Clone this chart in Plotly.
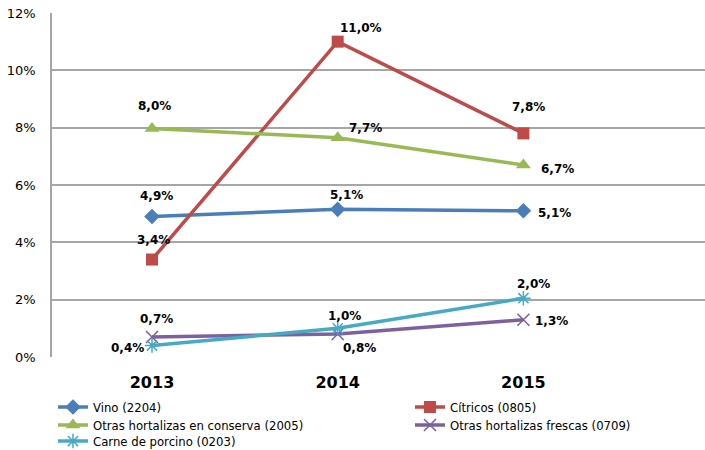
import plotly.graph_objects as go

years = ["2013", "2014", "2015"]
series_names = [
    "Vino (2204)",
    "Cítricos (0805)",
    "Otras hortalizas en conserva (2005)",
    "Otras hortalizas frescas (0709)",
    "Carne de porcino (0203)",
]
vino = [4.9, 5.15, 5.1]
citricos = [3.4, 11.0, 7.8]
conserva = [7.97, 7.65, 6.7]
frescas = [0.7, 0.8, 1.3]
carne = [0.4, 1.0, 2.05]
label_vino = [4.9, 5.1, 5.1]
label_citricos = [3.4, 11.0, 7.8]
label_conserva = [8.0, 7.7, 6.7]
label_frescas = [0.7, 0.8, 1.3]
label_carne = [0.4, 1.0, 2.0]
y_ticks = [0, 2, 4, 6, 8, 10, 12]

values = [vino, citricos, conserva, frescas, carne]
labels = [label_vino, label_citricos, label_conserva, label_frescas, label_carne]

# styles
colors = ["#4A7EBB", "#BE4B48", "#98B954", "#7D60A0", "#46AAC5"]
symbols = ["diamond", "square", "triangle-up", "x-thin", "asterisk"]
msizes = [12, 12, 13, 12, 12]
legend_ids = ["legend", "legend2", "legend3", "legend4", "legend5"]
# legend placement: (x in paper, y in container) per entry
legend_pos = [(0.0015, 0.1278), (0.5482, 0.1278), (0.0015, 0.0878),
              (0.5482, 0.0878), (0.0015, 0.0522)]
# label offsets in pixels (dx, dy with dy positive = down)
offsets = [
    [(4, -21), (9, -14), (31, 2)],
    [(1, -20), (23, -14), (5, -26)],
    [(2, -23), (28, -10), (34, 4)],
    [(4, -18), (22, 14), (28, 1)],
    [(-25, 2), (7, -12), (10, -14)],
]

fig = go.Figure()
for name, vals, c, s, ms, lg in zip(series_names, values, colors, symbols, msizes, legend_ids):
    thin = s in ("x-thin", "asterisk")
    fig.add_trace(go.Scatter(
        x=years, y=vals, name=name, mode="lines+markers", legend=lg,
        line=dict(color=c, width=3.5),
        marker=dict(symbol=s, size=ms, color=c,
                    line=dict(color=c, width=1.5 if thin else 0)),
    ))

annotations = []
for vals, labs, offs in zip(values, labels, offsets):
    for i, (v, lab, (dx, dy)) in enumerate(zip(vals, labs, offs)):
        annotations.append(dict(
            x=i, y=v, xref="x", yref="y",
            text=f"{lab:.1f}%".replace(".", ","),
            showarrow=False, xshift=dx, yshift=-dy,
            font=dict(family="DejaVu Sans", size=12, color="#000000", weight="bold"),
        ))

legend_font = dict(family="DejaVu Sans", size=11.7, color="#000000")
legends = {}
for lg, (lx, ly) in zip(legend_ids, legend_pos):
    legends[lg] = dict(orientation="v", x=lx, xref="paper", y=ly, yref="container",
                       xanchor="left", yanchor="top", font=legend_font,
                       bgcolor="rgba(0,0,0,0)")

fig.update_layout(
    width=705, height=450,
    margin=dict(l=52, r=0, t=12.5, b=93),
    paper_bgcolor="white", plot_bgcolor="white",
    showlegend=True,
    annotations=annotations,
    **legends,
)
fig.update_xaxes(
    type="category", range=[-0.5385, 2.978],
    showgrid=False, zeroline=False, showline=False, ticks="",
    tickfont=dict(family="DejaVu Sans", size=16, color="#000000", weight="bold"),
    ticklabelstandoff=14,
)
fig.update_yaxes(
    range=[0, 12], tickvals=y_ticks, ticktext=[f"{t}%" for t in y_ticks],
    showgrid=True, gridcolor="#A6A6A6", gridwidth=1.5,
    zeroline=False, showline=True, linecolor="#A6A6A6", linewidth=1.5,
    ticks="", ticklabelstandoff=12, ticklabeloverflow="allow",
    tickfont=dict(family="DejaVu Sans", size=13, color="#000000"),
)

fig.write_html("out.html", config={"displayModeBar": False},
               post_script="document.body.style.margin='0';")
